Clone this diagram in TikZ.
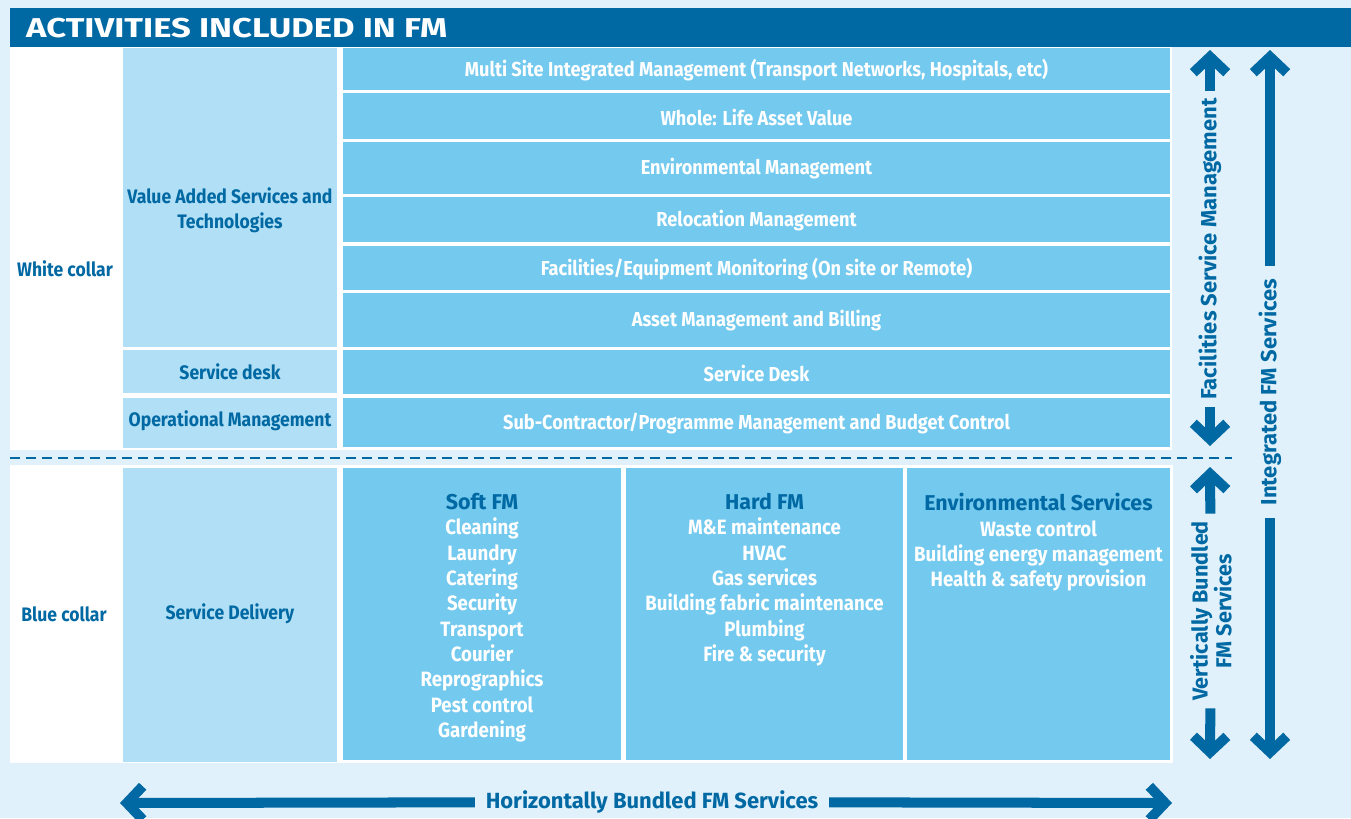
\documentclass[tikz,border=0pt]{standalone}
\usepackage{fontspec}
\setmainfont{Fira Sans}
\newfontfamily\condfont[FakeStretch=0.9]{Fira Sans}
\newfontfamily\widefont[FakeStretch=1.27]{Fira Sans}
\usetikzlibrary{arrows.meta}
\definecolor{FMDark}{RGB}{0,105,163}
\definecolor{FMCell}{RGB}{115,201,238}
\definecolor{FMPale}{RGB}{177,223,245}
\definecolor{FMBack}{RGB}{224,241,251}
\tikzset{
  celltxt/.style={text=white, font=\condfont\bfseries\fontsize{11.5}{14.4}\selectfont, align=center, inner sep=0pt},
  listtxt/.style={celltxt, font=\condfont\bfseries\fontsize{11.8}{14.4}\selectfont},
  sidetxt/.style={text=FMDark, font=\condfont\bfseries\fontsize{11.1}{14.4}\selectfont, align=center},
  bandtxt/.style={text=FMDark, font=\bfseries\fontsize{12.5}{14.5}\selectfont, align=center, inner sep=4pt},
  bigarr/.style={draw=FMDark, line width=5.7pt, -{Straight Barb[length=9pt,width=19pt]}},
}
\newcommand{\listhead}[1]{{\normalfont\bfseries\color{FMDark}\fontsize{12.2}{14.4}\selectfont #1}}

\begin{document}
\begin{tikzpicture}[x=0.02cm, y=-0.02cm]
  \useasboundingbox (0,0) rectangle (1351,818);
  \fill[FMBack] (0,0) rectangle (1351,818);
  % title bar
  \fill[FMDark] (10,8) rectangle (1351,47);
  \node[anchor=west, text=white, font=\widefont\bfseries\fontsize{15.5}{18}\selectfont] (title) at (20,28) {ACTIVITIES INCLUDED IN FM};
  % white panels, upper and lower half
  \fill[white] (10,47) rectangle (1172,450);
  \fill[white] (10,465) rectangle (1173,763);
  \draw[FMDark, line width=1.6pt, dash pattern=on 5.7pt off 3.4pt] (10,458) -- (1232,458);

  % second column
  \fill[FMPale] (123,48) rectangle (337,347);
  \fill[FMPale] (123,350) rectangle (337,393);
  \fill[FMPale] (123,398) rectangle (337,448);
  \fill[FMPale] (123,468) rectangle (337,762);
  \node[sidetxt] (white) at (65,269) {White collar};
  \node[sidetxt] (blue) at (64,614) {Blue collar};
  \node[sidetxt] (vas) at (230,210) {Value Added Services and\\Technologies};
  \node[sidetxt] (desk) at (230,372) {Service desk};
  \node[sidetxt] (opm) at (230,421) {Operational Management};
  \node[sidetxt] (sdel) at (230,614) {Service Delivery};

  % activity rows
  \foreach \ya/\yb/\txt [count=\i] in {
      48/90/{Multi Site Integrated Management (Transport Networks, Hospitals, etc)},
      93/139/{Whole: Life Asset Value},
      142/194/{Environmental Management},
      197/242/{Relocation Management},
      246/290/{Facilities/Equipment Monitoring (On site or Remote)},
      293/347/{Asset Management and Billing},
      350/394/{Service Desk},
      398/447/{Sub-Contractor/Programme Management and Budget Control}} {
    \fill[FMCell] (343,\ya) rectangle (1170,\yb);
    \node[celltxt] (row\i) at (756.5,{(\ya+\yb)/2+1}) {\txt};
  }

  % service delivery boxes
  \fill[FMCell] (343,468) rectangle (621,760);
  \fill[FMCell] (626,468) rectangle (903,760);
  \fill[FMCell] (907,468) rectangle (1170,760);
  \node[listtxt, anchor=north] (soft) at (482,493) {\listhead{Soft FM}\\Cleaning\\Laundry\\Catering\\Security\\Transport\\Courier\\Reprographics\\Pest control\\Gardening};
  \node[listtxt, anchor=north] (hard) at (764.5,493) {\listhead{Hard FM}\\M\&E maintenance\\HVAC\\Gas services\\Building fabric maintenance\\Plumbing\\Fire \& security};
  \node[listtxt, anchor=north] (env) at (1038.5,493) {\listhead{Environmental Services}\\Waste control\\Building energy management\\Health \& safety provision};

  % scope arrows
  \node[bandtxt, rotate=90] (fsm) at (1210,249) {Facilities Service Management};
  \coordinate (fsmtop) at (1210,50);
  \coordinate (fsmbot) at (1210,446);
  \draw[bigarr] (fsm) -- (fsmtop);
  \draw[bigarr] (fsm) -- (fsmbot);

  \node[bandtxt, rotate=90, font=\bfseries\fontsize{12.3}{13.5}\selectfont] (vbs) at (1211,611) {Vertically Bundled\\FM Services};
  \coordinate (vbstop) at (1210,467);
  \coordinate (vbsbot) at (1210,759);
  \draw[bigarr] (vbs) -- (vbstop);
  \draw[bigarr] (vbs) -- (vbsbot);

  \node[bandtxt, rotate=90, inner sep=7pt] (ifm) at (1270,392) {Integrated FM Services};
  \coordinate (ifmtop) at (1270,50);
  \coordinate (ifmbot) at (1270,759);
  \draw[bigarr] (ifm) -- (ifmtop);
  \draw[bigarr] (ifm) -- (ifmbot);

  \node[bandtxt, inner sep=6pt] (hbs) at (652,802) {Horizontally Bundled FM Services};
  \coordinate (hbsl) at (120,803);
  \coordinate (hbsr) at (1172,803);
  \draw[bigarr] (hbs) -- (hbsl);
  \draw[bigarr] (hbs) -- (hbsr);
\end{tikzpicture}
\end{document}
